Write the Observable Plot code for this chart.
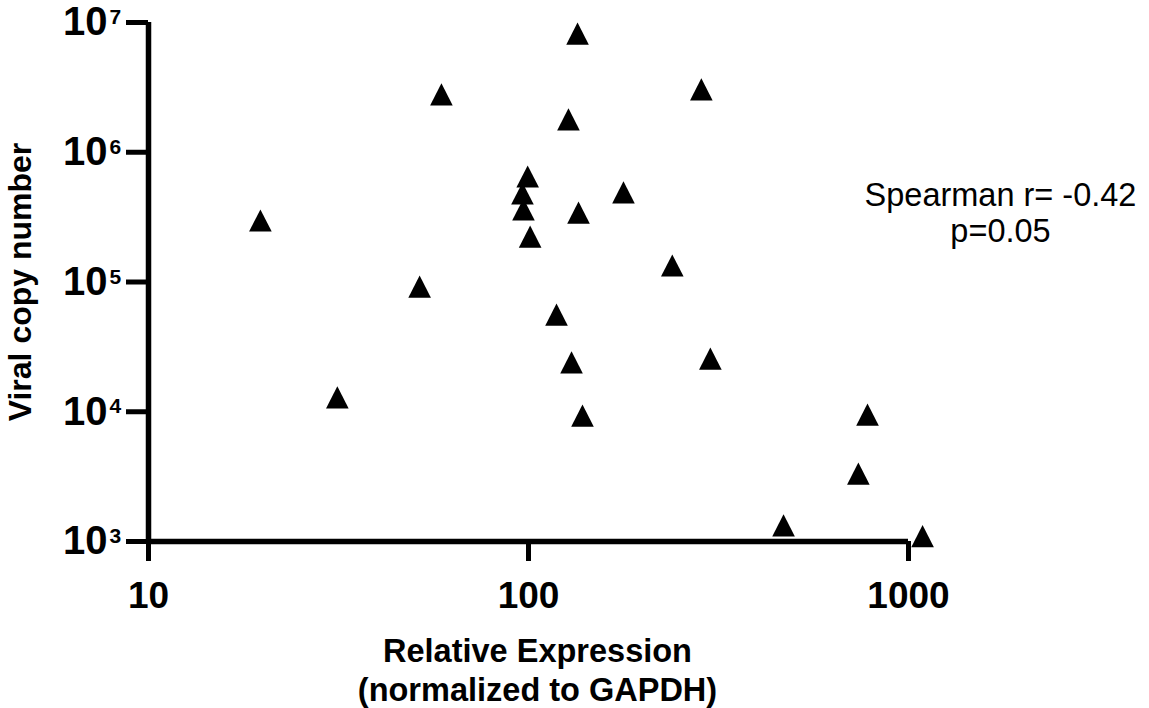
<!DOCTYPE html>
<html>
<head>
<meta charset="utf-8">
<script src="https://cdn.jsdelivr.net/npm/d3@7"></script>
<script src="https://cdn.jsdelivr.net/npm/@observablehq/plot@0.6"></script>
<style>
  html, body { margin: 0; padding: 0; background: #fff; }
  svg { display: block; }
</style>
</head>
<body>
<div id="chart"></div>
<script>
// Relative expression (normalized to GAPDH)
const relExpression = [19.7, 31.4, 51.7, 59.0, 99.5, 96.4, 97.0, 101, 118.5, 127.4, 129.8, 134.6, 135.4, 138.7, 177.8, 239, 285, 301, 469, 738, 780, 1089];
// Viral copy number
const viralCopies = [2.98e5, 1.29e4, 9.2e4, 2.79e6, 6.5e5, 4.81e5, 3.62e5, 2.24e5, 5.6e4, 1.79e6, 2.4e4, 8.2e6, 3.43e5, 9.35e3, 4.9e5, 1.34e5, 3.05e6, 2.57e4, 1.33e3, 3.34e3, 9.5e3, 1.1e3];

const xTicks = [10, 100, 1000];
const yTicks = [1e3, 1e4, 1e5, 1e6, 1e7];
const yExponents = ["3", "4", "5", "6", "7"];
const xTitle = "Relative Expression\n(normalized to GAPDH)";
const yTitle = "Viral copy number";
const statsText = "Spearman r= -0.42\np=0.05";

const data = relExpression.map((x, i) => ({x, y: viralCopies[i]}));
const yTickData = yTicks.map((v, i) => ({v, e: yExponents[i]}));

// Triangle as tall as it is wide, centred on its bounding box
const triangle = {
  draw(ctx, size) {
    const s = Math.sqrt(size / Math.PI);
    const w = 2.6 * s, h = 2.55 * s;
    ctx.moveTo(0, -h / 2);
    ctx.lineTo(w / 2, h / 2);
    ctx.lineTo(-w / 2, h / 2);
    ctx.closePath();
  }
};

const font = "'Liberation Sans', Arial, Helvetica, sans-serif";

const chart = Plot.plot({
  width: 1149,
  height: 708,
  marginLeft: 148,
  marginRight: 241,
  marginTop: 22,
  marginBottom: 167,
  style: {fontFamily: font, background: "#fff", color: "#000"},
  x: {type: "log", domain: [10, 1000]},
  y: {type: "log", domain: [1e3, 1e7]},
  marks: [
    Plot.axisX({ticks: xTicks, tickSize: 20, strokeWidth: 5, tickPadding: 20, tickFormat: d => String(d),
      fontSize: 37, fontWeight: "bold", label: null}),
    Plot.axisY({ticks: yTicks, tickSize: 22, strokeWidth: 5, tickFormat: () => "", label: null}),
    Plot.ruleY([1e3], {stroke: "#000", strokeWidth: 5.5}),
    Plot.ruleX([10], {stroke: "#000", strokeWidth: 5.5}),
    Plot.text(yTickData, {y: "v", frameAnchor: "left", text: () => "10", dx: -41, textAnchor: "end",
      fontSize: 40, fontWeight: "bold", fill: "#000"}),
    Plot.text(yTickData, {y: "v", frameAnchor: "left", text: "e", dx: -39, dy: -5, textAnchor: "start",
      fontSize: 21, fontWeight: "bold", fill: "#000"}),
    Plot.text([yTitle], {frameAnchor: "left", dx: -128, rotate: -90, textAnchor: "middle",
      fontSize: 32, fontWeight: "bold", fill: "#000"}),
    Plot.text([xTitle], {frameAnchor: "bottom", dx: 9, dy: 128, lineAnchor: "middle", lineHeight: 1.2,
      fontSize: 32.5, fontWeight: "bold", fill: "#000"}),
    Plot.text([statsText], {frameAnchor: "top-right", dx: 92, dy: 157, textAnchor: "middle", lineAnchor: "top",
      lineHeight: 1.13, fontSize: 32.5, fill: "#000"}),
    Plot.dot(data, {x: "x", y: "y", symbol: triangle, r: 8.7, fill: "#000", stroke: "none"})
  ]
});

document.getElementById("chart").append(chart);
</script>
</body>
</html>
